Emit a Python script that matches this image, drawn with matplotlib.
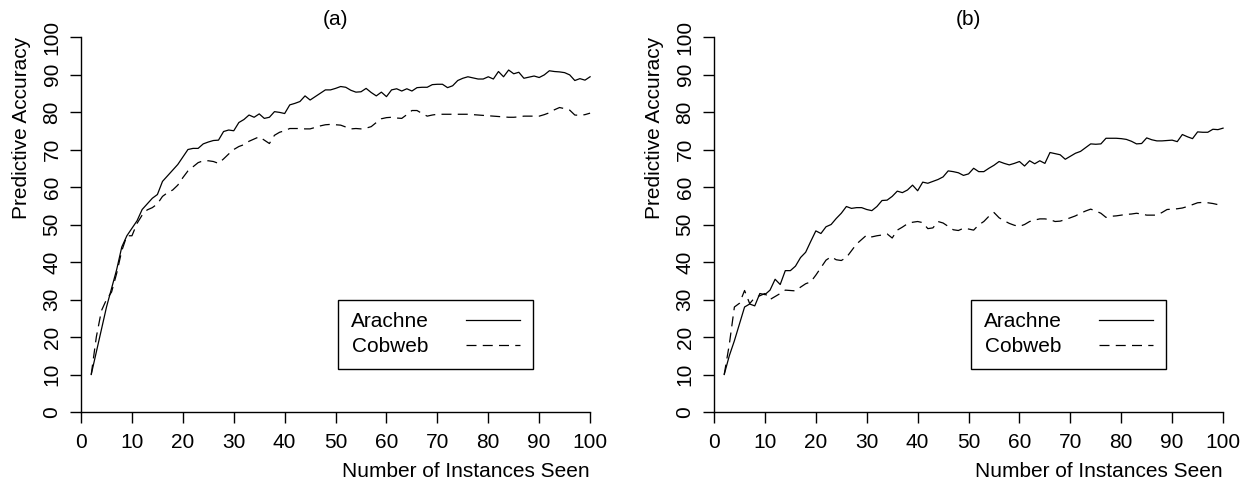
import numpy as np
import matplotlib.pyplot as plt
from matplotlib.lines import Line2D

plt.rcParams['font.family'] = ['Liberation Sans', 'DejaVu Sans']
plt.rcParams['font.size'] = 15

# number of training instances seen
instances = np.arange(2, 101)

# (a) predictive accuracy
arachne_a = [10, 16, 22, 28, 33, 38, 44, 47, 49, 51, 54, 55.5, 57, 58, 61.5, 63, 64.5, 66, 68,
             70, 70.3, 70.3, 71.5, 72, 72.4, 72.5, 74.8, 75.2, 75, 77.2, 78, 79.2, 78.6, 79.5,
             78.3, 78.6, 80.1, 79.9, 79.6, 81.9, 82.3, 82.8, 84.3, 83.2, 84.1, 85, 85.9, 85.9,
             86.3, 86.8, 86.6, 85.8, 85.3, 85.4, 86.3, 85.2, 84.3, 85.3, 84.1, 85.9, 86.2, 85.6,
             86.2, 85.6, 86.5, 86.6, 86.6, 87.3, 87.4, 87.4, 86.5, 87, 88.4, 89, 89.4, 89.1,
             88.8, 88.8, 89.4, 88.8, 90.8, 89.4, 91.2, 90.2, 90.6, 89.0, 89.3, 89.6, 89.2, 89.9,
             91.0, 90.8, 90.7, 90.5, 89.9, 88.4, 88.9, 88.5, 89.4]
cobweb_a = [10, 20, 27, 30, 32, 37, 43, 47, 47, 50.3, 52.5, 53.9, 54.5, 55.5, 57.5, 58.5, 59.2,
            60.5, 62.5, 64.3, 65.4, 66.5, 67, 67, 66.8, 66.3, 67.5, 68.8, 70, 70.8, 71.3, 72.2,
            72.8, 73.4, 72.5, 71.6, 73.8, 74.6, 75, 75.6, 75.6, 75.6, 75.5, 75.5, 75.9, 76.3,
            76.6, 76.7, 76.6, 76.5, 76, 75.5, 75.6, 75.5, 75.7, 76.1, 77.2, 78.2, 78.5, 78.6,
            78.4, 78.3, 79.3, 80.4, 80.4, 79.6, 78.9, 79.2, 79.4, 79.4, 79.4, 79.4, 79.4, 79.4,
            79.4, 79.3, 79.2, 79.1, 79, 78.9, 78.8, 78.7, 78.6, 78.6, 78.7, 78.9, 78.9, 78.9,
            78.9, 79.3, 79.8, 80.6, 81.2, 80.9, 80.5, 79.2, 79.1, 79.3, 79.7]

# (b) predictive accuracy
arachne_b = [10, 15, 19, 23.5, 28, 28.8, 28.3, 31.6, 31.3, 32.5, 35.4, 34, 37.7, 37.7, 38.9,
             41.2, 42.6, 45.5, 48.3, 47.6, 49.4, 50, 51.6, 53, 54.8, 54.3, 54.5, 54.5, 54, 53.7,
             54.8, 56.4, 56.5, 57.5, 58.9, 58.5, 59.2, 60.5, 59, 61.3, 61, 61.5, 62, 62.7, 64.3,
             64.1, 63.8, 63.1, 63.5, 65, 64.1, 64.1, 65, 65.8, 66.8, 66.3, 65.9, 66.3, 66.8,
             65.6, 67, 66.2, 67, 66.3, 69.2, 68.9, 68.6, 67.4, 68.2, 69, 69.5, 70.5, 71.5, 71.4,
             71.5, 73, 73, 73, 72.9, 72.7, 72.2, 71.5, 71.6, 73.1, 72.6, 72.3, 72.3, 72.4, 72.5,
             72.1, 74, 73.4, 72.9, 74.7, 74.6, 74.6, 75.4, 75.3, 75.7]
cobweb_b = [10, 18, 28, 29, 32.4, 28.9, 30.5, 31, 31.6, 30, 30.8, 31.6, 32.5, 32.4, 32.3, 33.3,
            34.2, 34.7, 36.5, 38.5, 40.5, 41.4, 40.6, 40.4, 41.2, 43, 44.8, 46, 47.2, 46.7, 47,
            47.2, 47.5, 46.4, 48.5, 49.3, 50.2, 50.6, 50.8, 50.5, 48.9, 49.1, 50.8, 50.4, 49.5,
            48.6, 48.4, 49, 48.8, 48.5, 49.9, 50.8, 52.2, 53.2, 51.8, 51, 50.3, 49.8, 49.5, 50,
            50.8, 51.2, 51.5, 51.5, 51.3, 50.8, 50.9, 51.3, 51.8, 52.3, 53, 53.6, 54.1, 53.6,
            53, 51.9, 52.2, 52.3, 52.5, 52.7, 52.8, 53, 52.8, 52.5, 52.5, 52.5, 53.2, 54, 54.1,
            54.2, 54.4, 54.8, 55.3, 55.8, 55.9, 55.8, 55.6, 55.3, 55]

ticks = np.arange(0, 101, 10)
dash = (0, (8, 5))

fig = plt.figure(figsize=(12.47, 4.91), dpi=100)
ax_a = fig.add_axes([0.0650, 0.1609, 0.4082, 0.7637])
ax_b = fig.add_axes([0.5726, 0.1609, 0.4082, 0.7637])

for ax, arachne, cobweb, title in [(ax_a, arachne_a, cobweb_a, '(a)'),
                                   (ax_b, arachne_b, cobweb_b, '(b)')]:
    ax.plot(instances, arachne, color='black', lw=0.9, clip_on=False)
    ax.plot(instances, cobweb, color='black', lw=0.9, linestyle=dash, clip_on=False)
    ax.set_xlim(0, 100)
    ax.set_ylim(0, 100)
    ax.set_xticks(ticks)
    ax.set_yticks(ticks)
    ax.spines['top'].set_visible(False)
    ax.spines['right'].set_visible(False)
    for s in ['left', 'bottom']:
        ax.spines[s].set_linewidth(1.0)
    ax.tick_params(direction='out', length=8, width=1.0, labelsize=15)
    ax.tick_params(axis='x', pad=7)
    ax.tick_params(axis='y', labelrotation=90, pad=6)
    for lbl in ax.get_yticklabels():
        lbl.set_verticalalignment('center')
    ax.set_title(title, fontsize=15, pad=9)
    ax.set_xlabel('Number of Instances Seen', fontsize=15, loc='right', labelpad=7)
    ax.set_ylabel('Predictive Accuracy', fontsize=15, loc='top', labelpad=8)

    handles = [Line2D([], [], color='black', lw=0.9),
               Line2D([], [], color='black', lw=0.9, linestyle=dash)]
    leg = ax.legend(handles, ['Arachne', 'Cobweb'], loc='lower left',
                    bbox_to_anchor=(0.505, 0.115), markerfirst=False,
                    handlelength=2.6, handletextpad=1.8, labelspacing=0.3,
                    borderpad=0.6, borderaxespad=0, fancybox=False, framealpha=1,
                    edgecolor='black', fontsize=15)
    leg.get_frame().set_linewidth(1.0)

fig.savefig('out.png', dpi=100)
